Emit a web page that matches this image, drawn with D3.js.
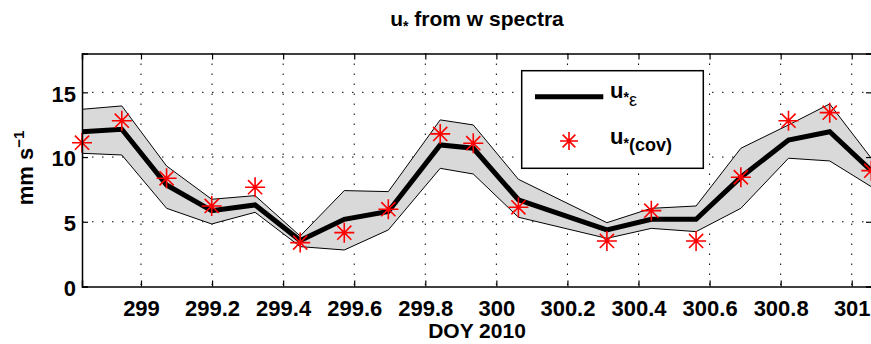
<!DOCTYPE html>
<html><head><meta charset="utf-8">
<script src="https://cdn.jsdelivr.net/npm/d3@7"></script>
<style>body{margin:0;background:#fff}svg{display:block}text{font-family:"Liberation Sans",Arial,Helvetica,sans-serif;font-weight:bold;fill:#000}</style>
</head><body><svg id="c" width="871" height="344"></svg>
<script>
const doy   = [298.834,298.946,299.072,299.199,299.321,299.448,299.572,299.696,299.842,299.935,300.062,300.311,300.436,300.562,300.688,300.822,300.938,301.055];
const uEps  = [11.96,12.15,7.84,5.86,6.30,3.55,5.19,5.80,10.94,10.68,6.70,4.37,5.19,5.19,8.44,11.32,11.96,8.95];
const uUp   = [13.69,13.95,9.31,6.74,7.02,3.90,7.41,7.33,12.87,12.48,8.28,4.93,6.04,6.22,10.68,12.48,14.10,9.91];
const uLo   = [10.29,10.16,6.04,4.83,5.73,3.08,2.82,4.37,9.13,8.69,5.35,3.72,4.49,4.24,6.04,9.91,9.70,7.71];
const uCov  = [11.11,12.81,8.36,6.22,7.67,3.39,4.16,5.97,11.79,11.07,6.12,3.52,5.86,3.52,8.44,12.81,13.43,8.95];
const xTicks = [299,299.2,299.4,299.6,299.8,300,300.2,300.4,300.6,300.8,301];
const yTicks = [0,5,10,15];

const svg = d3.select("#c");
const L=82,R=872,T=53.5,B=286.5;
const x = d3.scaleLinear().domain([298.834,301.057]).range([L,R]);
const y = d3.scaleLinear().domain([0,18]).range([B,T]);

// grid
const g = svg.append("g");
g.selectAll(".gx").data(xTicks).enter().append("line")
 .attr("x1",d=>x(d)).attr("x2",d=>x(d)).attr("y1",T).attr("y2",B)
 .attr("stroke","#000").attr("stroke-width",1).attr("stroke-dasharray","1.5,8.5");
g.selectAll(".gy").data(yTicks.filter(d=>d>0)).enter().append("line")
 .attr("x1",L).attr("x2",R).attr("y1",d=>y(d)).attr("y2",d=>y(d))
 .attr("stroke","#000").attr("stroke-width",1).attr("stroke-dasharray","1.5,8.5");

// band
const pts = doy.map((d,i)=>({x:d,e:uEps[i],u:uUp[i],l:uLo[i],c:uCov[i]}));
svg.append("path").datum(pts)
 .attr("d",d3.area().x(d=>x(d.x)).y0(d=>y(d.l)).y1(d=>y(d.u)))
 .attr("fill","#d9d9d9").attr("stroke","none");
svg.append("path").datum(pts).attr("d",d3.line().x(d=>x(d.x)).y(d=>y(d.u)))
 .attr("fill","none").attr("stroke","#000").attr("stroke-width",1);
svg.append("path").datum(pts).attr("d",d3.line().x(d=>x(d.x)).y(d=>y(d.l)))
 .attr("fill","none").attr("stroke","#000").attr("stroke-width",1);
svg.append("path").datum(pts).attr("d",d3.line().x(d=>x(d.x)).y(d=>y(d.e)))
 .attr("fill","none").attr("stroke","#000").attr("stroke-width",5).attr("stroke-linejoin","miter");

// star marker
function star(sel,r){
  const a=r*0.7071;
  sel.append("path").attr("d",`M${-r},0H${r}M0,${-r}V${r}M${-a},${-a}L${a},${a}M${-a},${a}L${a},${-a}`)
   .attr("stroke","#ff0000").attr("stroke-width",1.6).attr("fill","none");
}
svg.selectAll(".st").data(pts).enter().append("g")
 .attr("transform",d=>`translate(${x(d.x)},${y(d.c)})`).each(function(){star(d3.select(this),10);});

// axes
const ax = svg.append("g").attr("transform",`translate(0,${B})`)
 .call(d3.axisBottom(x).tickValues(xTicks).tickSize(-6).tickPadding(14).tickFormat(d3.format("")));
const axt = svg.append("g").attr("transform",`translate(0,${T})`)
 .call(d3.axisTop(x).tickValues(xTicks).tickSize(-6).tickFormat(""));
const ay = svg.append("g").attr("transform",`translate(${L},0)`)
 .call(d3.axisLeft(y).tickValues(yTicks).tickSize(-6).tickPadding(6));
const ayr = svg.append("g").attr("transform",`translate(${R},0)`)
 .call(d3.axisRight(y).tickValues(yTicks).tickSize(-6).tickFormat(""));
[ax,axt,ay,ayr].forEach(a=>{
  a.select(".domain").attr("stroke","#000").attr("stroke-width",1.5);
  a.selectAll(".tick line").attr("stroke","#000").attr("stroke-width",1.2);
  a.selectAll("text").style("font-size","22px").style("font-family",'"Liberation Sans",Arial,sans-serif').style("font-weight","bold").attr("fill","#000");
});
ax.selectAll(".tick text").attr("dy","0.71em");
ay.selectAll(".tick text").attr("dy","0.4em");

// title
const tt = svg.append("text").attr("x",477).attr("y",26).attr("text-anchor","middle").style("font-size","21px");
tt.append("tspan").text("u");
tt.append("tspan").attr("dy",5).style("font-size","14px").text("*");
tt.append("tspan").attr("dy",-5).text(" from w spectra");

// x label
svg.append("text").attr("x",477).attr("y",338).attr("text-anchor","middle").style("font-size","21px").text("DOY 2010");

// y label
const yl = svg.append("text").attr("transform","translate(33,168) rotate(-90)").attr("text-anchor","middle").style("font-size","22px");
yl.append("tspan").text("mm s");
yl.append("tspan").attr("dy",-9).style("font-size","15px").text("−1");

// legend
const lg = svg.append("g");
lg.append("rect").attr("x",521.7).attr("y",70.7).attr("width",181.6).attr("height",97.6)
 .attr("fill","#fff").attr("stroke","#000").attr("stroke-width",1.5);
lg.append("line").attr("x1",535).attr("x2",603.3).attr("y1",96.7).attr("y2",96.7).attr("stroke","#000").attr("stroke-width",5);
lg.append("g").attr("transform","translate(569,141)").each(function(){star(d3.select(this),9);});
const t1 = lg.append("text").attr("x",610).attr("y",98).style("font-size","22px");
t1.append("tspan").text("u");
t1.append("tspan").attr("dy",4).style("font-size","14px").text("*");
t1.append("tspan").attr("dy",4).style("font-size","18px").style("font-weight","normal").text("ε");
const t2 = lg.append("text").attr("x",610).attr("y",144).style("font-size","22px");
t2.append("tspan").text("u");
t2.append("tspan").attr("dy",4).style("font-size","14px").text("*");
t2.append("tspan").attr("dy",3).style("font-size","18px").text("(cov)");
</script></body></html>
